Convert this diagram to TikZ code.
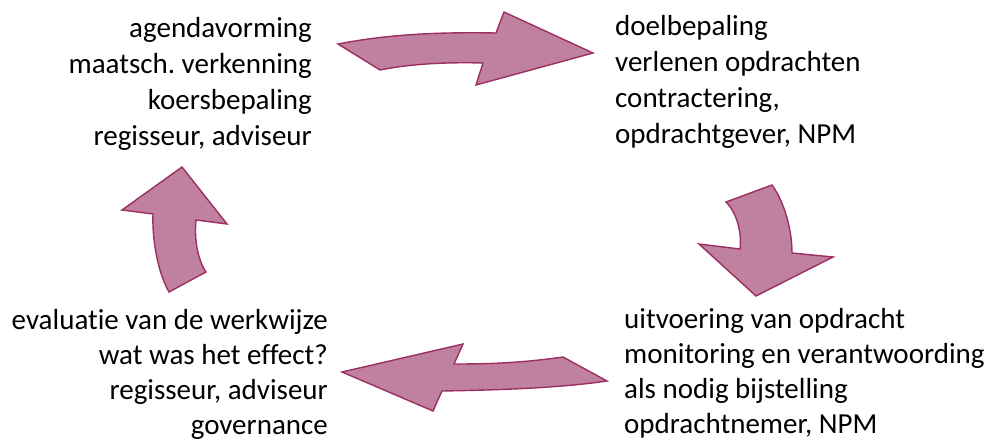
\documentclass[tikz,border=0pt]{standalone}
\usepackage{fontspec}
\setmainfont{Carlito}[Ligatures={NoCommon}]
\frenchspacing
\definecolor{arrfill}{HTML}{C0809F}
\definecolor{arrdraw}{HTML}{9B2F62}
\begin{document}
\begin{tikzpicture}[x=1pt,y=-1pt,
  arrowshape/.style={fill=arrfill,draw=arrdraw,line width=1.4pt,line join=miter},
  rtxt/.style={anchor=base east,inner sep=0pt,font=\fontsize{29}{36}\selectfont},
  ltxt/.style={anchor=base west,inner sep=0pt,font=\fontsize{29}{36}\selectfont}]
\useasboundingbox (0,0) rectangle (994,441);
% top arrow (to the right)
\draw[arrowshape] (338,44) .. controls (390,34) and (440,32) .. (496,33) -- (504,12) -- (593,53) -- (476,85) -- (483,63) .. controls (445,62) and (410,64) .. (380,70) -- cycle;
% right arrow (down)
\draw[arrowshape] (726,202) -- (772,185) .. controls (783,200) and (792,227) .. (792,253) -- (833,257) -- (756,296) -- (699,244) -- (740,249) .. controls (742,233) and (737,213) .. (726,202) -- cycle;
% bottom arrow (to the left)
\draw[arrowshape] (607,381) -- (563,357) .. controls (520,363) and (490,364) .. (454,364) -- (463,344) -- (342,372) -- (433,411) -- (442,391) .. controls (500,390) and (560,388) .. (607,381) -- cycle;
% left arrow (up)
\draw[arrowshape] (169,292) -- (206,272) .. controls (198,260) and (194,240) .. (196,220) -- (227,224) -- (182,167) -- (122,210) -- (153,214) .. controls (152,240) and (158,273) .. (169,292) -- cycle;
% top-left text
\node[rtxt] (tl1) at (312,38) {agendavorming};
\node[rtxt] (tl2) at (312,74) {maatsch. verkenning};
\node[rtxt] (tl3) at (312,110) {koersbepaling};
\node[rtxt] (tl4) at (312,146) {regisseur, adviseur};
% top-right text
\node[ltxt] (tr1) at (615,36) {doelbepaling};
\node[ltxt] (tr2) at (615,72) {verlenen opdrachten};
\node[ltxt] (tr3) at (615,108) {contractering,};
\node[ltxt] (tr4) at (615,144) {opdrachtgever, NPM};
% bottom-left text
\node[rtxt] (bl1) at (328,329) {evaluatie van de werkwijze};
\node[rtxt] (bl2) at (328,364) {wat was het effect?};
\node[rtxt] (bl3) at (328,399) {regisseur, adviseur};
\node[rtxt] (bl4) at (328,434) {governance};
% bottom-right text
\node[ltxt] (br1) at (624,328) {uitvoering van opdracht};
\node[ltxt] (br2) at (624,363) {monitoring en verantwoording};
\node[ltxt] (br3) at (624,398) {als nodig bijstelling};
\node[ltxt] (br4) at (624,433) {opdrachtnemer, NPM};
\end{tikzpicture}
\end{document}
